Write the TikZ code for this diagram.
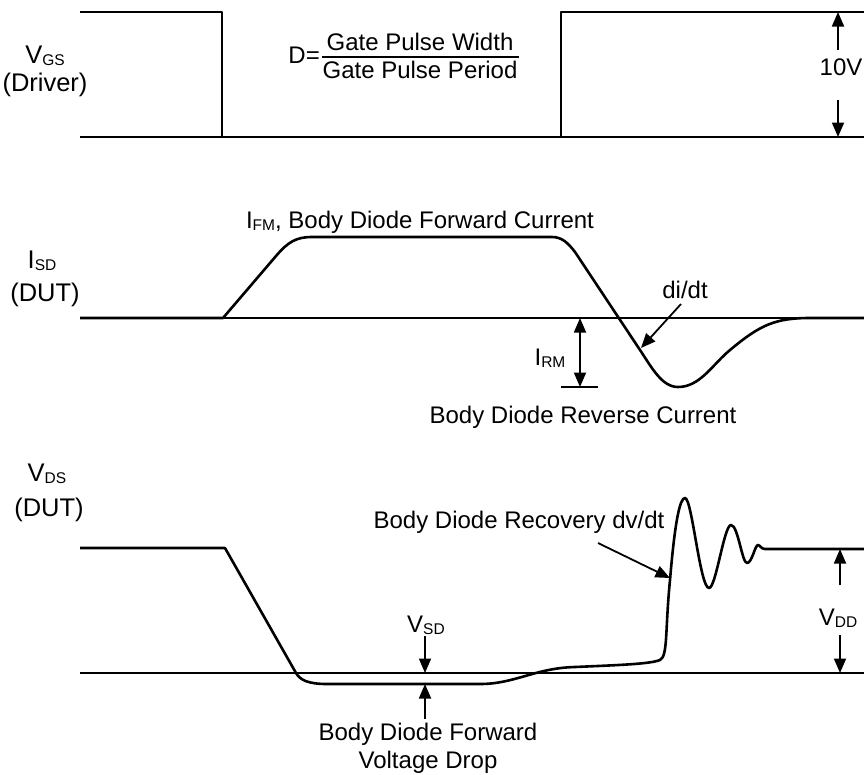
\documentclass[tikz,border=0pt]{standalone}
\usepackage{fontspec}
\setmainfont{Liberation Sans}
\usetikzlibrary{arrows.meta}
\newcommand{\sbs}[1]{\raisebox{-2pt}{\fontsize{15.5}{15.5}\selectfont #1}}
\begin{document}
\begin{tikzpicture}[x=1pt,y=-1pt,
  font=\fontsize{24}{28}\selectfont,
  wave/.style={line width=2.6pt, line join=round},
  baseln/.style={line width=1.4pt},
  arr/.style={line width=1.8pt, -{Triangle[length=14.5pt,width=12pt]}},
  darr/.style={line width=1.8pt, {Triangle[length=14.5pt,width=12pt]}-{Triangle[length=14.5pt,width=12pt]}},
  lbl/.style={inner sep=0pt, anchor=base},
  side/.style={inner sep=0pt, anchor=base, font=\fontsize{25.5}{28}\selectfont}]
\useasboundingbox (0,0) rectangle (864,774);

% ---------- VGS (Driver) ----------
\node[side] (vgs) at (45,63) {V\sbs{GS}};
\node[side] (drv) at (45,91) {(Driver)};
\draw[baseln] (80,137) -- (864,137);
\draw[wave] (80,12) -- (222,12) -- (222,137) -- (561,137) -- (561,12) -- (864,12);
\node[lbl, anchor=base east] (deq) at (320,63) {D=};
\node[lbl] (num) at (420,50) {Gate Pulse Width};
\node[lbl] (den) at (420,78) {Gate Pulse Period};
\coordinate (barl) at (322,57);
\coordinate (barr) at (519,57);
\draw[line width=1.3pt] (barl) -- (barr);
\coordinate (t10a) at (838,50);
\coordinate (t10b) at (838,12);
\coordinate (b10a) at (838,100);
\coordinate (b10b) at (838,137);
\draw[arr] (t10a) -- (t10b);
\draw[arr] (b10a) -- (b10b);
\node[lbl] (ten) at (841,75) {10V};

% ---------- ISD (DUT) ----------
\node[side] (isd) at (42,268) {I\sbs{SD}};
\node[side] (dut1) at (45,301) {(DUT)};
\draw[baseln] (80,318) -- (864,318);
\draw[wave] (80,318) -- (223,318) -- (276,256)
  .. controls (288,242) and (296,237) .. (312,237)
  -- (552,237)
  .. controls (562,237) and (568,243) .. (575,252)
  -- (640,350)
  .. controls (652,368) and (662,387) .. (678,387)
  .. controls (700,387) and (712,365) .. (730,350)
  .. controls (760,325) and (775,318) .. (810,318)
  -- (864,318);
\node[lbl] (ifm) at (420,228) {I\sbs{FM}, Body Diode Forward Current};
\node[lbl] (didt) at (685,298) {di/dt};
\coordinate (didts) at (681,304);
\coordinate (didte) at (641,348);
\draw[arr] (didts) -- (didte);
\coordinate (irmt) at (580,318);
\coordinate (irmb) at (580,387);
\draw[darr] (irmt) -- (irmb);
\coordinate (tickl) at (561,387);
\coordinate (tickr) at (598,387);
\draw[line width=1.8pt] (tickl) -- (tickr);
\node[lbl] (irm) at (550,365) {I\sbs{RM}};
\node[lbl] (brc) at (583,423) {Body Diode Reverse Current};

% ---------- VDS (DUT) ----------
\node[side] (vds) at (47,481) {V\sbs{DS}};
\node[side] (dut2) at (49,516) {(DUT)};
\draw[baseln] (80,673) -- (864,673);
\draw[wave] (80,548) -- (225,548) -- (296,673)
  .. controls (300,680) and (308,684) .. (327,684)
  -- (480,684)
  .. controls (515,684) and (535,668) .. (575,667)
  .. controls (620,665) and (650,664) .. (660,660)
  .. controls (668,656) and (665,630) .. (670,580)
  .. controls (675,520) and (680,498) .. (685,498)
  .. controls (692,498) and (700,588) .. (709,588)
  .. controls (716,588) and (724,525) .. (731,525)
  .. controls (738,525) and (742,563) .. (747,563)
  .. controls (752,563) and (755,545) .. (758,545)
  .. controls (760,545) and (761,549) .. (765,549)
  -- (864,549);
\node[lbl] (rec) at (519,528) {Body Diode Recovery dv/dt};
\coordinate (recs) at (598,543);
\coordinate (rece) at (670,578);
\draw[arr] (recs) -- (rece);
\coordinate (vdda) at (840,585);
\coordinate (vddb) at (840,549);
\coordinate (vddc) at (840,635);
\coordinate (vddd) at (840,673);
\draw[arr] (vdda) -- (vddb);
\draw[arr] (vddc) -- (vddd);
\node[lbl] (vdd) at (838,625) {V\sbs{DD}};
\node[lbl] (vsd) at (426,632) {V\sbs{SD}};
\coordinate (vsda) at (425,636);
\coordinate (vsdb) at (425,673);
\coordinate (vsdc) at (425,719);
\coordinate (vsdd) at (425,684);
\draw[arr] (vsda) -- (vsdb);
\draw[arr] (vsdc) -- (vsdd);
\node[lbl] (bdf) at (428,740) {Body Diode Forward};
\node[lbl] (vdrop) at (428,768) {Voltage Drop};
\end{tikzpicture}
\end{document}
